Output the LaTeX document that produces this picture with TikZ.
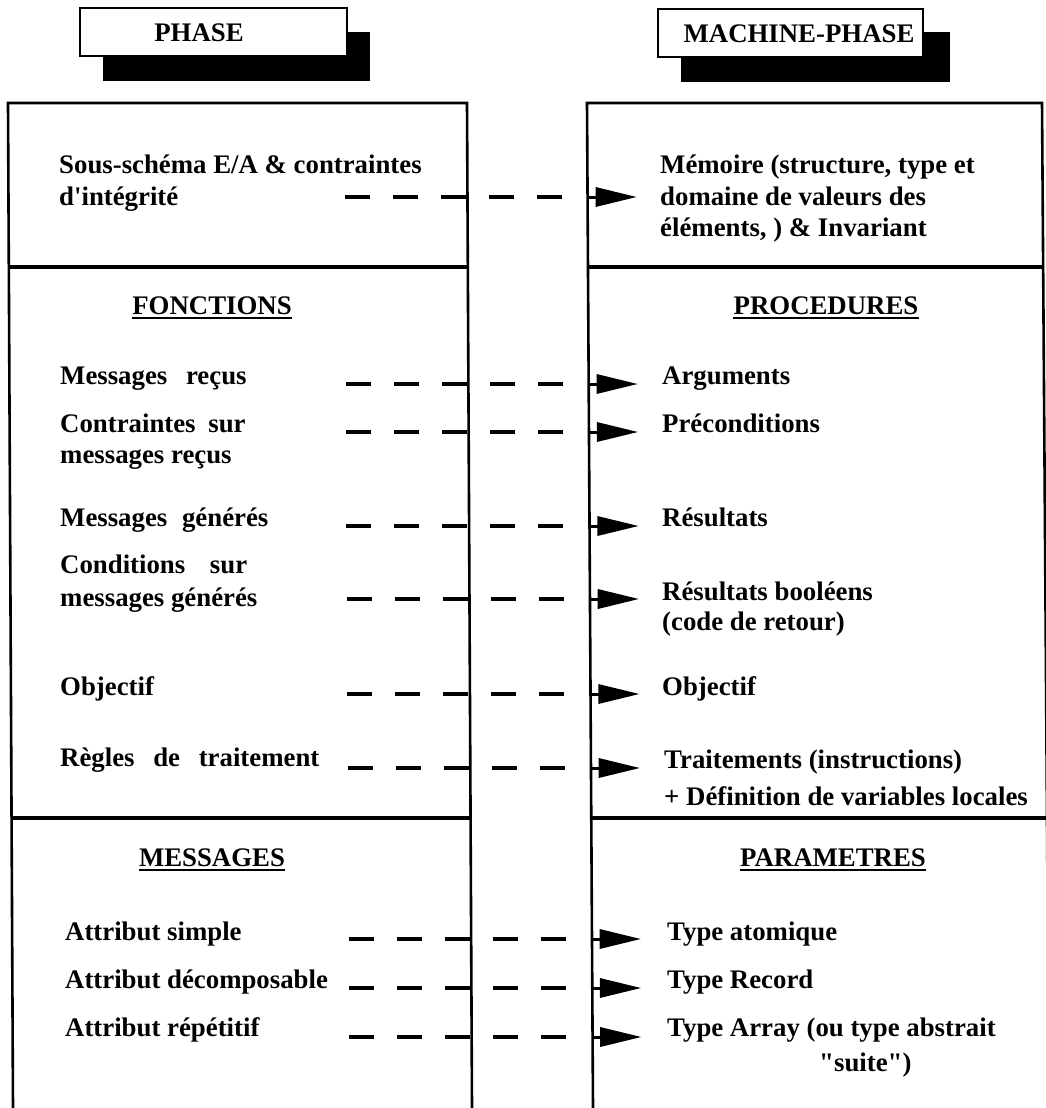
\documentclass[tikz,border=0pt]{standalone}
\usepackage{fontspec}
\setmainfont{Liberation Serif}[Ligatures=TeXOff]
\usetikzlibrary{calc}
\newcommand{\bodyfont}{\fontsize{26.8}{31.5}\selectfont\bfseries}
\begin{document}
\begin{tikzpicture}[x=1pt,y=-1pt,
  txt/.style={anchor=base west,inner sep=0pt,font=\bodyfont},
  ttl/.style={anchor=base,inner sep=0pt,font=\bodyfont},
  frame/.style={line width=2.6pt},
  divider/.style={line width=3.6pt},
  uline/.style={line width=2pt},
  dashcon/.style={line width=4pt,dash pattern=on 25pt off 23pt},
  stem/.style={line width=3pt},
  headbox/.style={draw,line width=2.5pt,fill=white},
  shadowbox/.style={fill=black}]
\useasboundingbox[fill=white] (0,0) rectangle (1045,1108);
% header boxes
\fill[shadowbox] (103,32) rectangle (370,81);
\draw[headbox] (80,8) rectangle (347,56);
\node[ttl] (hphase) at (199,42) {PHASE};
\fill[shadowbox] (681,32) rectangle (950,82);
\draw[headbox] (658,9) rectangle (923,57);
\node[ttl] (hmach) at (799,43) {MACHINE-PHASE};
% columns (slightly skewed, as scanned)
\draw[frame] (13,1108) -- (8,103) -- (467,103) -- (472,1108);
\draw[frame] (1049,1108) -- (1042,103) -- (587,103) -- (593,1108);
\draw[divider] (9,267) -- (468,267);
\draw[divider] (588,267) -- (1044,267);
\draw[divider] (12,818) -- (471,818);
\draw[divider] (591,818) -- (1047,818);
% left texts
\node[txt] (l1a) at (59,173) {Sous-schéma E/A \& contraintes};
\node[txt] (l1b) at (59,205) {d'intégrité};
\node[ttl] (fonc) at (212,314) {FONCTIONS};
\node[txt] (l2) at (60,384) {Messages\hspace{12pt} reçus};
\node[txt] (l3a) at (60,432) {Contraintes\hspace{6pt} sur};
\node[txt] (l3b) at (60,463) {messages reçus};
\node[txt] (l4) at (60,526) {Messages\hspace{8pt} générés};
\node[txt] (l5a) at (60,573) {Conditions\hspace{18pt} sur};
\node[txt] (l5b) at (60,606) {messages générés};
\node[txt] (l6) at (60,695) {Objectif};
\node[txt] (l7) at (60,766) {Règles\hspace{12pt} de\hspace{12pt} traitement};
\node[ttl] (mess) at (212,866) {MESSAGES};
\node[txt] (l8) at (65,940) {Attribut simple};
\node[txt] (l9) at (65,988) {Attribut décomposable};
\node[txt] (l10) at (65,1036) {Attribut répétitif};
% right texts
\node[txt] (r1a) at (660,173) {Mémoire (structure, type et};
\node[txt] (r1b) at (660,205) {domaine de valeurs des};
\node[txt] (r1c) at (660,236) {éléments, ) \& Invariant};
\node[ttl] (proc) at (826,314) {PROCEDURES};
\node[txt] (r2) at (662,384) {Arguments};
\node[txt] (r3) at (662,432) {Préconditions};
\node[txt] (r4) at (662,526) {Résultats};
\node[txt] (r5a) at (662,600) {Résultats booléens};
\node[txt] (r5b) at (662,630) {(code de retour)};
\node[txt] (r6) at (662,695) {Objectif};
\node[txt] (r7a) at (664,768) {Traitements (instructions)};
\node[txt] (r7b) at (664,805) {+ Définition de variables locales};
\node[ttl] (param) at (833,866) {PARAMETRES};
\node[txt] (r8) at (667,940) {Type atomique};
\node[txt] (r9) at (667,988) {Type Record};
\node[txt] (r10a) at (667,1036) {Type Array (ou type abstrait};
\node[txt] (r10b) at (819,1071) {"suite")};
% underlines
\foreach \t in {fonc,proc,mess,param}
  \draw[uline] ($(\t.base west)+(0,4)$) -- ($(\t.base east)+(0,4)$);
% dashed connectors
\foreach \n/\yy in {1/197,2/384,3/432,4/526,5/599,6/694,7/768,8/939,9/988,10/1037} {
  \pgfmathsetmacro\dx{(\yy-103)*0.0055}
  \coordinate (s\n) at (344+\dx,\yy);
  \coordinate (m\n) at (562+\dx,\yy);
  \coordinate (b\n) at (587+\dx,\yy);
  \coordinate (t\n) at (636+\dx,\yy);
  \draw[dashcon] (s\n) -- (m\n);
  \draw[stem] (b\n) -- ($(t\n)+(-40,0)$);
  \fill ($(t\n)+(-41,-10)$) -- (t\n) -- ($(t\n)+(-41,10)$) -- cycle;
}
\end{tikzpicture}
\end{document}
